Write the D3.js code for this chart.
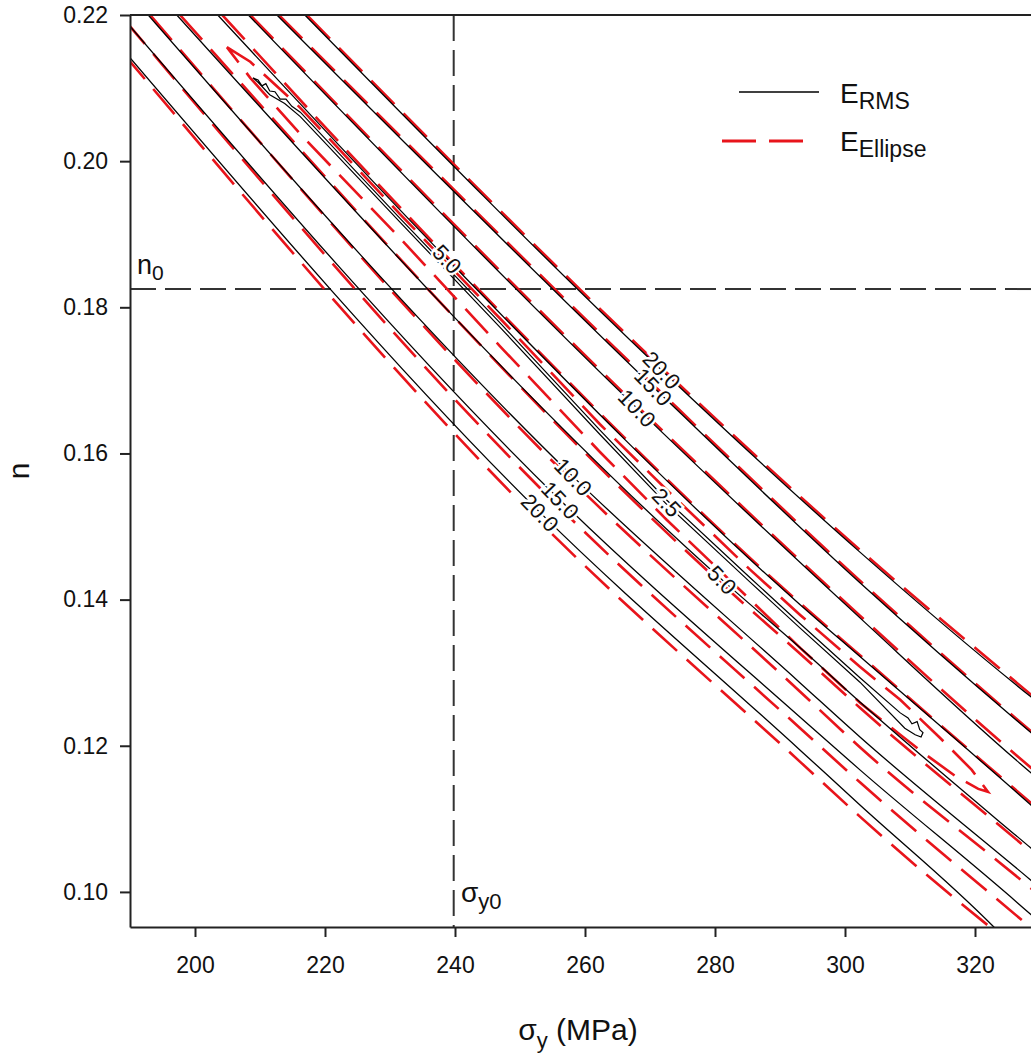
<!DOCTYPE html>
<html><head><meta charset="utf-8">
<script src="https://cdn.jsdelivr.net/npm/d3@7"></script>
<style>
body{margin:0;background:#fff}
text{font-family:"Liberation Sans",Arial,Helvetica,sans-serif;fill:#111}
</style>
</head><body>
<svg id="chart" width="1031" height="1054"></svg>
<script>
// ---------- data ----------
const xTicks = [200,220,240,260,280,300,320];
const yTicks = [0.10,0.12,0.14,0.16,0.18,0.20,0.22];
const sigmaY0 = 239.8;
const n0 = 0.1825;

// E_RMS contours (black, solid) : [sigma_y (MPa), n]
const rmsU20 = [[216.9,0.2200],[271.8,0.1714],[302.3,0.1465],[328.6,0.1267],[331,0.1250]];
const rmsU15 = [[212.6,0.2200],[270.5,0.1691],[302.3,0.1423],[328.6,0.1218],[331,0.1200]];
const rmsU10 = [[208.2,0.2200],[268.0,0.1662],[302.3,0.1375],[328.6,0.1163],[331,0.1145]];
const rmsU5  = [[203.5,0.2200],[238.8,0.1866],[293.1,0.1393],[302.3,0.1322],[328.6,0.1119],[331,0.1100]];
const rmsL5  = [[197.2,0.2200],[281.1,0.1427],[293.1,0.1334],[302.3,0.1260],[328.6,0.1060],[331,0.1042]];
const rmsL10 = [[192.8,0.2200],[258.2,0.1568],[293.1,0.1286],[302.3,0.1212],[328.6,0.1016],[331,0.0998]];
const rmsL15 = [[189.0,0.2195],[256.2,0.1536],[293.1,0.1239],[302.3,0.1167],[328.6,0.0969],[331,0.0950]];
const rmsL20 = [[189.0,0.2152],[253.1,0.1519],[293.1,0.1194],[302.3,0.1119],[322.9,0.0952],[324,0.0942]];
const rms25  = [[208.9,0.2114],[209.7,0.2111],[210.3,0.2103],[210.9,0.2106],[211.5,0.2096],[212.3,0.2095],
  [213.1,0.2085],[214.0,0.2085],[214.9,0.2075],[216.2,0.2067],[231.5,0.1922],[246.9,0.1779],[262.3,0.1632],
  [272.6,0.1536],[285.4,0.1430],[293.1,0.1367],[302.3,0.1293],[308.5,0.1245],[309.7,0.1238],[310.3,0.1230],
  [311.1,0.1233],[311.5,0.1222],[312.0,0.1218],[311.7,0.1212],[310.8,0.1215],[309.2,0.1224],[302.3,0.1287],
  [293.1,0.1361],[285.4,0.1424],[272.6,0.1530],[262.3,0.1626],[246.9,0.1773],[231.5,0.1917],[216.2,0.2061],
  [213.8,0.2079],[211.5,0.2091],[209.7,0.2108],[208.9,0.2114]];

// E_Ellipse contours (red, dashed)
const ellU20 = [[217.2,0.2200],[271.8,0.1717],[302.3,0.1468],[328.6,0.1270],[331,0.1252]];
const ellU15 = [[212.9,0.2200],[270.5,0.1694],[302.3,0.1426],[328.6,0.1220],[331,0.1202]];
const ellU10 = [[208.5,0.2200],[268.0,0.1665],[302.3,0.1378],[328.6,0.1170],[331,0.1152]];
const ellU5  = [[204.2,0.2200],[238.8,0.1869],[293.1,0.1395],[302.3,0.1324],[328.6,0.1122],[331,0.1104]];
const ellL5  = [[197.7,0.2200],[281.1,0.1421],[293.1,0.1326],[302.3,0.1252],[328.6,0.1055],[331,0.1037]];
const ellL10 = [[193.1,0.2200],[258.2,0.1561],[293.1,0.1274],[302.3,0.1198],[328.6,0.1005],[331,0.0987]];
const ellL15 = [[189.0,0.2195],[256.2,0.1525],[293.1,0.1224],[302.3,0.1150],[328.6,0.0951],[331,0.0933]];
const ellL20 = [[189.0,0.2147],[253.1,0.1506],[293.1,0.1178],[302.3,0.1103],[322.3,0.0952],[324,0.0940]];
const ell25  = [[204.9,0.2156],[208.5,0.2136],[216.2,0.2073],[231.5,0.1928],[246.9,0.1785],[262.3,0.1640],
  [272.6,0.1550],[285.4,0.1441],[293.1,0.1379],[302.3,0.1308],[308.5,0.1263],[314.6,0.1211],[319.5,0.1167],
  [322.0,0.1137],[320.5,0.1141],[316.9,0.1159],[311.8,0.1192],[308.5,0.1215],[302.3,0.1259],[293.1,0.1334],
  [285.4,0.1400],[272.6,0.1509],[262.3,0.1602],[246.9,0.1747],[231.5,0.1895],[216.2,0.2037],[208.5,0.2114],
  [204.9,0.2156]];

// contour labels: [text, sigma_y, n]
const contourLabels = [
  ["5.0",238.8,0.1866],["20.0",271.8,0.1714],["15.0",270.5,0.1691],["10.0",268.0,0.1662],
  ["2.5",272.6,0.1533],["10.0",258.2,0.1568],["15.0",256.2,0.1536],["20.0",253.1,0.1519],
  ["5.0",281.1,0.1427]
];

// ---------- chart ----------
const svg = d3.select("#chart");
const x = d3.scaleLinear().domain([190,330]).range([130,1040]);
const y = d3.scaleLinear().domain([0.0952,0.22]).range([927,15]);

svg.append("defs").append("clipPath").attr("id","plot")
  .append("rect").attr("x",130).attr("y",15).attr("width",910).attr("height",912);

const plot = svg.append("g").attr("clip-path","url(#plot)");
const lineOpen = d3.line().x(d=>x(d[0])).y(d=>y(d[1])).curve(d3.curveMonotoneX);
const lineLoop = d3.line().x(d=>x(d[0])).y(d=>y(d[1])).curve(d3.curveLinear);

// reference dashed lines
plot.append("line").attr("x1",x(sigmaY0)).attr("x2",x(sigmaY0)).attr("y1",15).attr("y2",927)
  .attr("stroke","#333").attr("stroke-width",2).attr("stroke-dasharray","26,9");
plot.append("line").attr("x1",130).attr("x2",1040).attr("y1",y(n0)).attr("y2",y(n0))
  .attr("stroke","#333").attr("stroke-width",2).attr("stroke-dasharray","26,9");

// red (ellipse) contours
[ellU20,ellU15,ellU10,ellU5,ellL5,ellL10,ellL15,ellL20].forEach(d=>{
  plot.append("path").attr("d",lineOpen(d)).attr("fill","none")
    .attr("stroke","#e8141b").attr("stroke-width",2.6).attr("stroke-dasharray","33,13");
});
plot.append("path").attr("d",lineLoop(ell25)).attr("fill","none")
  .attr("stroke","#e8141b").attr("stroke-width",2.6).attr("stroke-dasharray","33,13");

// black (RMS) contours
[rmsU20,rmsU15,rmsU10,rmsU5,rmsL5,rmsL10,rmsL15,rmsL20].forEach(d=>{
  plot.append("path").attr("d",lineOpen(d)).attr("fill","none")
    .attr("stroke","#000").attr("stroke-width",1.3);
});
plot.append("path").attr("d",lineLoop(rms25)).attr("fill","none")
  .attr("stroke","#000").attr("stroke-width",1.2);

// contour labels
plot.selectAll("text.cl").data(contourLabels).join("text").attr("class","cl")
  .attr("transform",d=>`translate(${x(d[1])},${y(d[2])}) rotate(46)`)
  .attr("text-anchor","middle").attr("dy","0.36em")
  .style("font-size","22px")
  .attr("stroke","#fff").attr("stroke-width",5).attr("paint-order","stroke")
  .text(d=>d[0]);

// axes
const ax = svg.append("g").attr("transform","translate(0,927)")
  .call(d3.axisBottom(x).tickValues(xTicks).tickSize(10).tickPadding(20).tickSizeOuter(0));
const ay = svg.append("g").attr("transform","translate(130,0)")
  .call(d3.axisLeft(y).tickValues(yTicks).tickFormat(d3.format(".2f")).tickSize(10).tickPadding(12).tickSizeOuter(0));
[ax,ay].forEach(g=>{
  g.select(".domain").attr("stroke","#222").attr("stroke-width",2);
  g.selectAll(".tick line").attr("stroke","#222").attr("stroke-width",2);
  g.selectAll(".tick text").style("font-size","23px").style("font-family","'Liberation Sans',Arial,sans-serif").attr("fill","#111");
});
svg.append("line").attr("x1",130).attr("x2",1031).attr("y1",15).attr("y2",15)
  .attr("stroke","#222").attr("stroke-width",2);

// axis titles
const xt = svg.append("text").attr("x",578).attr("y",1040).attr("text-anchor","middle").style("font-size","30px");
xt.append("tspan").text("σ");
xt.append("tspan").attr("dy",8).style("font-size","22px").text("y");
xt.append("tspan").attr("dy",-8).text(" (MPa)");

svg.append("text").attr("transform","translate(29,471) rotate(-90)").attr("text-anchor","middle")
  .style("font-size","30px").text("n");

// reference labels
const nl = svg.append("text").attr("x",137).attr("y",274).style("font-size","27px");
nl.append("tspan").text("n");
nl.append("tspan").attr("dy",6).style("font-size","21px").text("0");

const sl = svg.append("text").attr("x",461).attr("y",902).style("font-size","28px");
sl.append("tspan").text("σ");
sl.append("tspan").attr("dy",7).style("font-size","22px").text("y0");

// legend
svg.append("line").attr("x1",739).attr("x2",819).attr("y1",92).attr("y2",92)
  .attr("stroke","#000").attr("stroke-width",1.5);
svg.append("line").attr("x1",722).attr("x2",803).attr("y1",141).attr("y2",141)
  .attr("stroke","#e8141b").attr("stroke-width",3).attr("stroke-dasharray","34,13");
const l1 = svg.append("text").attr("x",840).attr("y",103).style("font-size","28px");
l1.append("tspan").text("E");
l1.append("tspan").attr("dy",6).style("font-size","23px").text("RMS");
const l2 = svg.append("text").attr("x",840).attr("y",151).style("font-size","28px");
l2.append("tspan").text("E");
l2.append("tspan").attr("dy",6).style("font-size","23px").text("Ellipse");
</script>
</body></html>
